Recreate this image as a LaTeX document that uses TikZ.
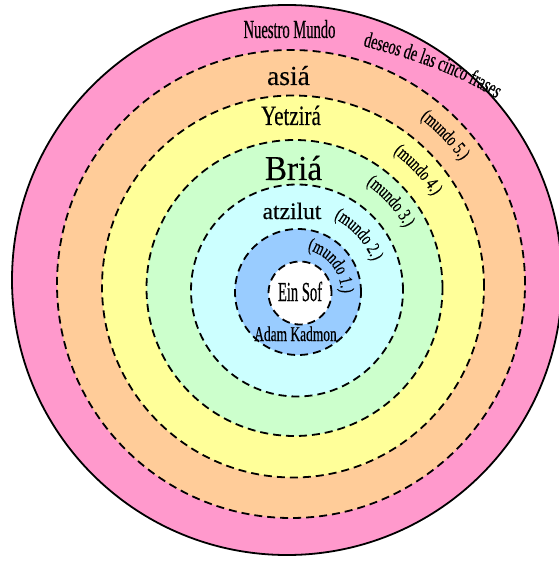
\documentclass[tikz,border=0pt]{standalone}
\usepackage{fontspec}
\setmainfont[FakeBold=0.3]{Liberation Serif}
\newfontfamily\fRg[FakeBold=0.35]{Liberation Serif}
\newfontfamily\fNM[FakeStretch=0.56,FakeBold=0.4]{Liberation Serif}
\newfontfamily\fYe[FakeStretch=0.75,FakeBold=0.35]{Liberation Serif}
\newfontfamily\fBr[FakeStretch=0.95,FakeBold=0.35]{Liberation Serif}
\newfontfamily\fES[FakeStretch=0.53,FakeBold=0.4]{Liberation Serif}
\newfontfamily\fAK[FakeStretch=0.64,FakeBold=0.4]{Liberation Serif}
\newfontfamily\fMu[FakeStretch=0.70,FakeBold=0.4]{Liberation Serif}
\newfontfamily\fDe[FakeStretch=0.64,FakeBold=0.4]{Liberation Serif}
\usetikzlibrary{decorations.text,calc}
\definecolor{cPink}{HTML}{FF99CC}
\definecolor{cOrange}{HTML}{FFCC99}
\definecolor{cYellow}{HTML}{FFFF99}
\definecolor{cGreen}{HTML}{CCFFCC}
\definecolor{cCyan}{HTML}{CCFFFF}
\definecolor{cBlue}{HTML}{99CCFF}
\tikzset{
  outerring/.style={draw=black, line width=1.8pt},
  ring/.style={draw=black, line width=1.8pt, dash pattern=on 8pt off 5pt},
  lbl/.style={inner sep=0pt, anchor=base},
  mundo/.style={decorate, decoration={text along path, text align=center,
      text={|\fMu\fontsize{19}{19}\selectfont|#1}}},
}
\begin{document}
\begin{tikzpicture}[x=1pt,y=1pt]
\useasboundingbox (0,0) rectangle (558,-561);
\coordinate (o0) at (287,-280);
\coordinate (o5) at (291,-284);
\coordinate (o4) at (293,-286.5);
\coordinate (o3) at (294.5,-288);
\coordinate (o2) at (297,-290.5);
\coordinate (o1) at (298,-292);
\coordinate (oE) at (300,-293);
\path[outerring, fill=cPink] (o0) circle[radius=275];
\path[ring, fill=cOrange] (o5) circle[radius=234];
\path[ring, fill=cYellow] (o4) circle[radius=191];
\path[ring, fill=cGreen] (o3) circle[radius=148];
\path[ring, fill=cCyan] (o2) circle[radius=106];
\path[ring, fill=cBlue] (o1) circle[radius=63];
\path[ring, fill=white] (oE) circle[radius=31.5];
\node[lbl] (nm) at (289.5,-38) {\fNM\fontsize{26}{26}\selectfont Nuestro Mundo};
\node[lbl] (asia) at (288.5,-85) {\fRg\fontsize{27.5}{27.5}\selectfont asiá};
\node[lbl] (yetz) at (291,-125) {\fYe\fontsize{28}{28}\selectfont Yetzirá};
\node[lbl] (bria) at (293.5,-180) {\fBr\fontsize{35}{35}\selectfont Briá};
\node[lbl] (atz) at (292,-219) {\fRg\fontsize{23.5}{23.5}\selectfont atzilut};
\node[lbl] (ein) at (300,-301) {\fES\fontsize{27.5}{27.5}\selectfont Ein Sof};
\node[lbl] (adam) at (295.5,-341) {\fAK\fontsize{21}{21}\selectfont Adam Kadmon};
\path[decorate, decoration={text along path,
   text={|\fDe\fontsize{22}{22}\selectfont|deseos de las cinco frases}}]
   (363,-46) .. controls (405,-57) and (455,-72) .. (497,-99) -- (545,-130);
\path[mundo={(mundo 5.)}] ($(o5)+(114:210)$) arc[start angle=114, end angle=-26, radius=210];
\path[mundo={(mundo 4.)}] ($(o4)+(113:167)$) arc[start angle=113, end angle=-27, radius=167];
\path[mundo={(mundo 3.)}] ($(o3)+(112:126)$) arc[start angle=112, end angle=-28, radius=126];
\path[mundo={(mundo 2.)}] ($(o2)+(112:81)$) arc[start angle=112, end angle=-28, radius=81];
\path[mundo={(mundo 1.)}] ($(o1)+(108:43)$) arc[start angle=108, end angle=-32, radius=43];
\end{tikzpicture}
\end{document}
